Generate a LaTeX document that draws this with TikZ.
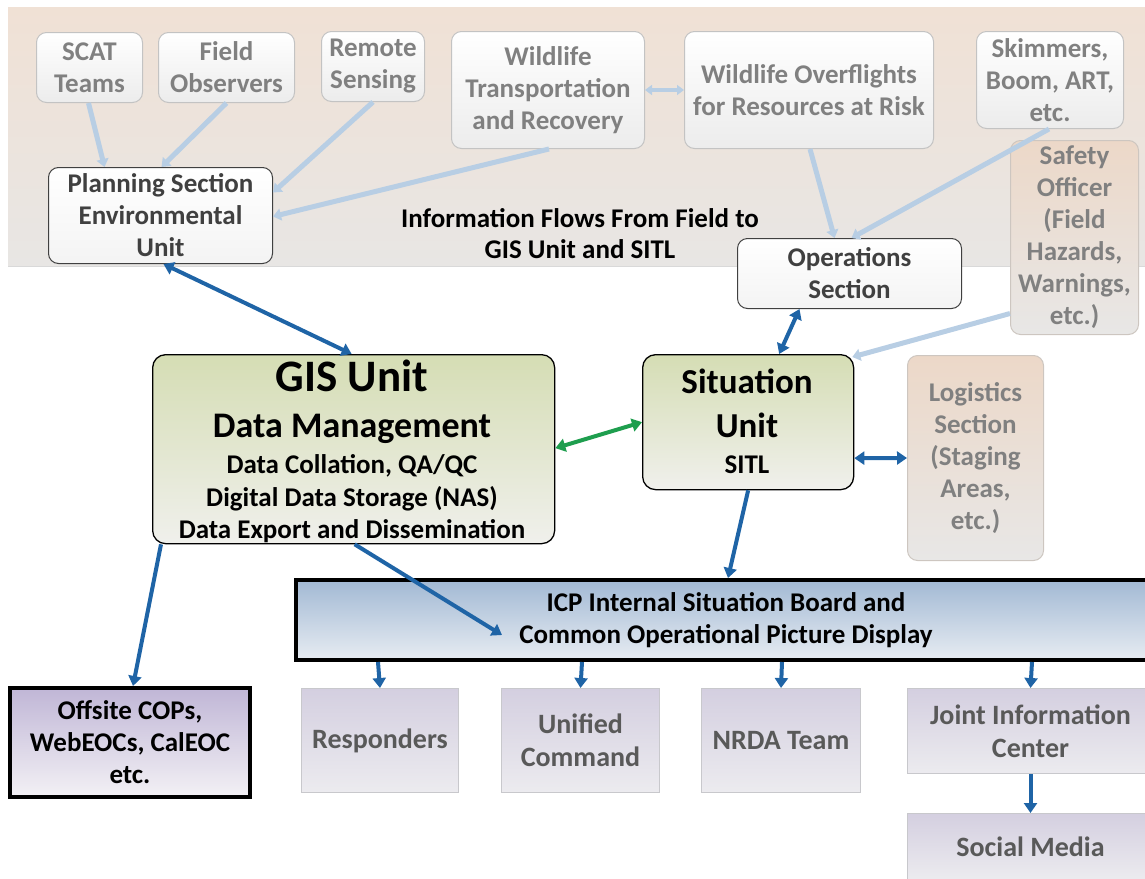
\documentclass[tikz,border=0pt]{standalone}
\usepackage{fontspec}
\setmainfont{Carlito}
\usetikzlibrary{arrows.meta,calc}
\definecolor{liteblue}{RGB}{184,206,228}
\definecolor{darkblue}{RGB}{31,100,166}
\definecolor{greenarr}{RGB}{30,158,78}
\definecolor{graytext}{RGB}{128,128,128}
\definecolor{darktext}{RGB}{64,64,64}
\definecolor{boxtext}{RGB}{89,89,89}
\definecolor{bandtop}{RGB}{240,225,213}
\definecolor{bandbot}{RGB}{232,230,228}
\definecolor{fieldbot}{RGB}{236,236,236}
\definecolor{fieldline}{RGB}{195,195,195}
\definecolor{peachtop}{RGB}{236,216,200}
\definecolor{peachbot}{RGB}{232,231,230}
\definecolor{peachline}{RGB}{205,198,192}
\definecolor{greentop}{RGB}{213,221,180}
\definecolor{greenbot}{RGB}{240,240,236}
\definecolor{icptop}{RGB}{162,185,212}
\definecolor{icpbot}{RGB}{231,236,242}
\definecolor{offtop}{RGB}{192,182,214}
\definecolor{offbot}{RGB}{243,241,245}
\definecolor{lavtop}{RGB}{212,207,224}
\definecolor{lavbot}{RGB}{236,235,239}
\definecolor{lavline}{RGB}{200,200,204}
\tikzset{
  x=1pt, y=-1pt,
  base/.style={rectangle, inner sep=0pt, align=center, anchor=north west,
    font=\bfseries\fontsize{27}{32}\selectfont},
  fieldbox/.style={base, rounded corners=10pt, draw=fieldline, line width=1pt,
    top color=white, bottom color=fieldbot, text=graytext},
  peachbox/.style={base, rounded corners=10pt, draw=peachline, line width=1pt,
    top color=peachtop, bottom color=peachbot, text=graytext},
  whitebox/.style={base, rounded corners=10pt, draw=darktext, line width=1pt,
    top color=white, bottom color=fieldbot!60, text=darktext},
  unitbox/.style={base, rounded corners=13pt, draw=black, line width=1.3pt,
    top color=greentop, bottom color=greenbot},
  icpbox/.style={base, draw=black, line width=4pt, top color=icptop, bottom color=icpbot},
  offbox/.style={base, draw=black, line width=4pt, top color=offtop, bottom color=offbot},
  lavbox/.style={base, draw=lavline, line width=1pt, top color=lavtop,
    bottom color=lavbot, text=boxtext, font=\bfseries\fontsize{28}{33}\selectfont},
  txt/.style={font=\bfseries\fontsize{27}{32}\selectfont, anchor=base, inner sep=0pt},
  lite/.style={draw=liteblue, line width=5pt, -{Triangle[length=8pt,width=12pt]}},
  litedbl/.style={draw=liteblue, line width=4pt, {Triangle[length=7pt,width=10pt]}-{Triangle[length=7pt,width=10pt]}},
  dark/.style={draw=darkblue, line width=4pt, -{Triangle[length=10pt,width=13pt]}},
  darkdbl/.style={draw=darkblue, line width=4pt, {Triangle[length=10pt,width=13pt]}-{Triangle[length=10pt,width=13pt]}},
  greendbl/.style={draw=greenarr, line width=4pt, {Triangle[length=10pt,width=13pt]}-{Triangle[length=10pt,width=13pt]}}
}
\begin{document}
\begin{tikzpicture}
\useasboundingbox (0,0) rectangle (1145,878);
% background band
\fill[top color=bandtop, bottom color=bandbot] (8,7) rectangle (1150,266);
\draw[line width=1pt, black!15] (8,266.5) -- (1150,266.5);

% field boxes
\node[fieldbox, minimum width=106pt, minimum height=70pt] (scat) at (36,32) {SCAT\\Teams};
\node[fieldbox, minimum width=136pt, minimum height=70pt] (field) at (158,32) {Field\\Observers};
\node[fieldbox, minimum width=103pt, minimum height=70pt] (remote) at (321,31) {Remote\\Sensing};
\node[fieldbox, minimum width=193pt, minimum height=117pt] (wtr) at (451,31) {Wildlife\\Transportation\\and Recovery};
\node[fieldbox, minimum width=249pt, minimum height=117pt] (wof) at (684,31) {Wildlife Overflights\\for Resources at Risk};
\node[fieldbox, minimum width=147pt, minimum height=97pt] (skim) at (976,31) {Skimmers,\\Boom, ART,\\etc.};
\node[peachbox, minimum width=128pt, minimum height=194pt] (safety) at (1010,140) {Safety\\Officer\\(Field\\Hazards,\\Warnings,\\etc.)};

\node[whitebox, minimum width=224pt, minimum height=96pt] (plan) at (48,167) {Planning Section\\Environmental\\Unit};
\node[whitebox, minimum width=224pt, minimum height=70pt] (ops) at (737,238) {Operations\\Section};

\node[txt] (info1) at (580,227) {Information Flows From Field to};
\node[txt] (info2) at (580,258) {GIS Unit and SITL};

% units
\node[unitbox, minimum width=402pt, minimum height=189pt] (gis) at (152,354) {};
\node[txt, font=\bfseries\fontsize{45}{50}\selectfont] (gis1) at (352,391) {GIS Unit};
\node[txt, font=\bfseries\fontsize{36}{40}\selectfont] (gis2) at (352,437) {Data Management};
\node[txt] (gis3) at (352,473) {Data Collation, QA/QC};
\node[txt] (gis4) at (352,506) {Digital Data Storage (NAS)};
\node[txt] (gis5) at (352,538) {Data Export and Dissemination};

\node[unitbox, minimum width=211pt, minimum height=135pt] (sit) at (642,354) {};
\node[txt, font=\bfseries\fontsize{35}{40}\selectfont] (sit1) at (747,393) {Situation};
\node[txt, font=\bfseries\fontsize{35}{40}\selectfont] (sit2) at (747,437) {Unit};
\node[txt] (sit3) at (747,473) {SITL};

\node[peachbox, minimum width=136pt, minimum height=205pt] (log) at (907,355) {Logistics\\Section\\(Staging\\Areas,\\etc.)};

% ICP board
\node[icpbox, minimum width=860pt, minimum height=80pt] (icp) at (294,578) {ICP Internal Situation Board and\\Common Operational Picture Display};

\node[offbox, minimum width=240pt, minimum height=109pt] (off) at (8,686) {Offsite COPs,\\WebEOCs, CalEOC\\etc.};

\node[lavbox, minimum width=157pt, minimum height=104pt] (resp) at (301,688) {Responders};
\node[lavbox, minimum width=158pt, minimum height=104pt] (unif) at (501,688) {Unified\\Command};
\node[lavbox, minimum width=159pt, minimum height=104pt] (nrda) at (701,688) {NRDA Team};
\node[lavbox, minimum width=246pt, minimum height=85pt] (joint) at (907,688) {Joint Information\\Center};
\node[lavbox, minimum width=246pt, minimum height=66pt] (social) at (907,813) {Social Media};

% light arrows (field to units)
\draw[lite] ([xshift=-1pt]scat.south) -- ($(plan.north)+(-56,0)$);
\draw[lite] (field.south) -- ($(plan.north)+(1,0)$);
\draw[lite] (remote.south) -- ($(plan.east)+(0,-23)$);
\draw[lite] ($(wtr.south)+(1,0)$) -- ($(plan.east)+(0,1)$);
\draw[litedbl] (wtr.east) -- (wof.west);
\draw[lite] ($(wof.south)+(1,0)$) -- ($(ops.north)+(-15,0)$);
\draw[lite] ($(skim.south)+(-1,0)$) -- ($(ops.north)+(2,0)$);
\draw[lite] ($(safety.west)+(0,76)$) -- ($(sit.north east)+(-2,3)$);

% dark arrows
\draw[darkdbl] ($(plan.south)+(3,0)$) -- ($(gis.north)+(-2,0)$);
\draw[darkdbl] ($(ops.south)+(-50,0)$) -- ($(sit.north)+(31,0)$);
\draw[greendbl] ($(gis.east)+(0,-1)$) -- ($(sit.west)+(0,0)$);
\draw[darkdbl] ($(sit.east)+(0,36)$) -- ($(log.west)+(0,0)$);
\draw[dark] (sit.south) -- ($(icp.north)+(2,0)$);
\draw[dark] ($(gis.south)+(1,0)$) -- ($(icp.west)+(208,15)$);
\draw[dark] ($(gis.south west)+(9,0)$) -- ($(off.north)+(3,0)$);
\draw[dark] ($(icp.south)+(-348,0)$) -- ($(resp.north)+(0,0)$);
\draw[dark] ($(icp.south)+(-144,0)$) -- (unif.north);
\draw[dark] ($(icp.south)+(56,0)$) -- (nrda.north);
\draw[dark] ($(icp.south)+(306,0)$) -- ($(joint.north)+(0,0)$);
\draw[dark] (joint.south) -- (social.north);
\end{tikzpicture}
\end{document}
